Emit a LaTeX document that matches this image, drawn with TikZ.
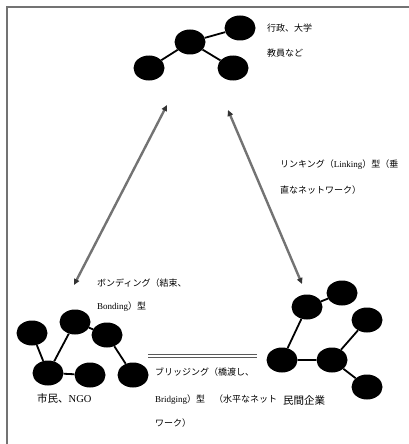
\documentclass[tikz,border=0pt]{standalone}
\usepackage{fontspec}
\setmainfont{Liberation Serif}
\newfontfamily\cjk{Noto Sans CJK JP}
\usetikzlibrary{shapes.geometric,arrows.meta}
\tikzset{
  blob/.style={ellipse,fill=black,minimum width=31pt,minimum height=25pt,inner sep=0pt},
  link/.style={line width=1.8pt,black},
  rel/.style={line width=2.4pt,black!55,{Triangle[length=6pt,width=5.5pt,color=black!80]}-{Triangle[length=6pt,width=5.5pt,color=black!80]}},
  lbl/.style={anchor=west,inner sep=0pt,font=\fontsize{9}{11}\selectfont},
  frame/.style={line width=1.2pt,black!55}
}
\begin{document}
\begin{tikzpicture}[x=1pt,y=-1pt]
\useasboundingbox (0,0) rectangle (409,444);
% frame
\coordinate (f1) at (7,444);
\coordinate (f2) at (7,7);
\coordinate (f3) at (409,7);
\draw[frame] (f1) -- (f2) -- (f3);

% top network
\node[blob] (a) at (149,68) {};
\node[blob] (b) at (190,42) {};
\node[blob] (c) at (240,28) {};
\node[blob] (d) at (233,68) {};
\draw[link] (a) -- (b) -- (c);
\draw[link] (b) -- (d);
\node[lbl] (t1) at (267,28) {\cjk 行政、大学};
\node[lbl] (t2) at (267,53) {\cjk 教員など};

% bottom-left network
\node[blob] (l1) at (32,333) {};
\node[blob] (l2) at (75,322) {};
\node[blob] (l3) at (107,335) {};
\node[blob] (l4) at (48,373) {};
\node[blob] (l5) at (90,375) {};
\node[blob] (l6) at (133,375) {};
\draw[link] (l1) -- (l4);
\draw[link] (l4) -- (l2) -- (l3) -- (l6);
\draw[link] (l4) -- (l5);
\node[lbl] (b1) at (97,283) {{\cjk ボンディング（結束、}};
\node[lbl] (b2) at (97,307) {Bonding{\cjk ）型}};
\node[lbl,font=\fontsize{10.5}{12}\selectfont] (b3) at (37,398) {{\cjk 市民、}NGO};

% bottom-right network
\node[blob] (r1) at (307,307) {};
\node[blob] (r2) at (342,293) {};
\node[blob] (r3) at (367,320) {};
\node[blob] (r4) at (282,360) {};
\node[blob] (r5) at (332,360) {};
\node[blob] (r6) at (367,387) {};
\draw[link] (r2) -- (r1) -- (r4) -- (r5) -- (r3);
\draw[link] (r5) -- (r6);
\node[lbl,font=\fontsize{10.5}{12}\selectfont] (c1) at (283,400) {\cjk 民間企業};

% relations
\coordinate (la1) at (74,285);
\coordinate (la2) at (167,105);
\draw[rel] (la1) -- (la2);
\coordinate (ra1) at (228,110);
\coordinate (ra2) at (302,284);
\draw[rel] (ra1) -- (ra2);
\node[lbl] (k1) at (280,165) {{\cjk リンキング（}Linking{\cjk ）型（垂}};
\node[lbl] (k2) at (280,190) {\cjk 直なネットワーク）};

\coordinate (h1) at (148,356);
\coordinate (h2) at (257,356);
\draw[line width=1.1pt,black!65,double=white,double distance=2.4pt] (h1) -- (h2);
\node[lbl] (g1) at (155,372) {\cjk ブリッジング（橋渡し、};
\node[lbl] (g2) at (155,400) {Bridging{\cjk ）型　（水平なネット}};
\node[lbl] (g3) at (155,423) {\cjk ワーク）};
\end{tikzpicture}
\end{document}
